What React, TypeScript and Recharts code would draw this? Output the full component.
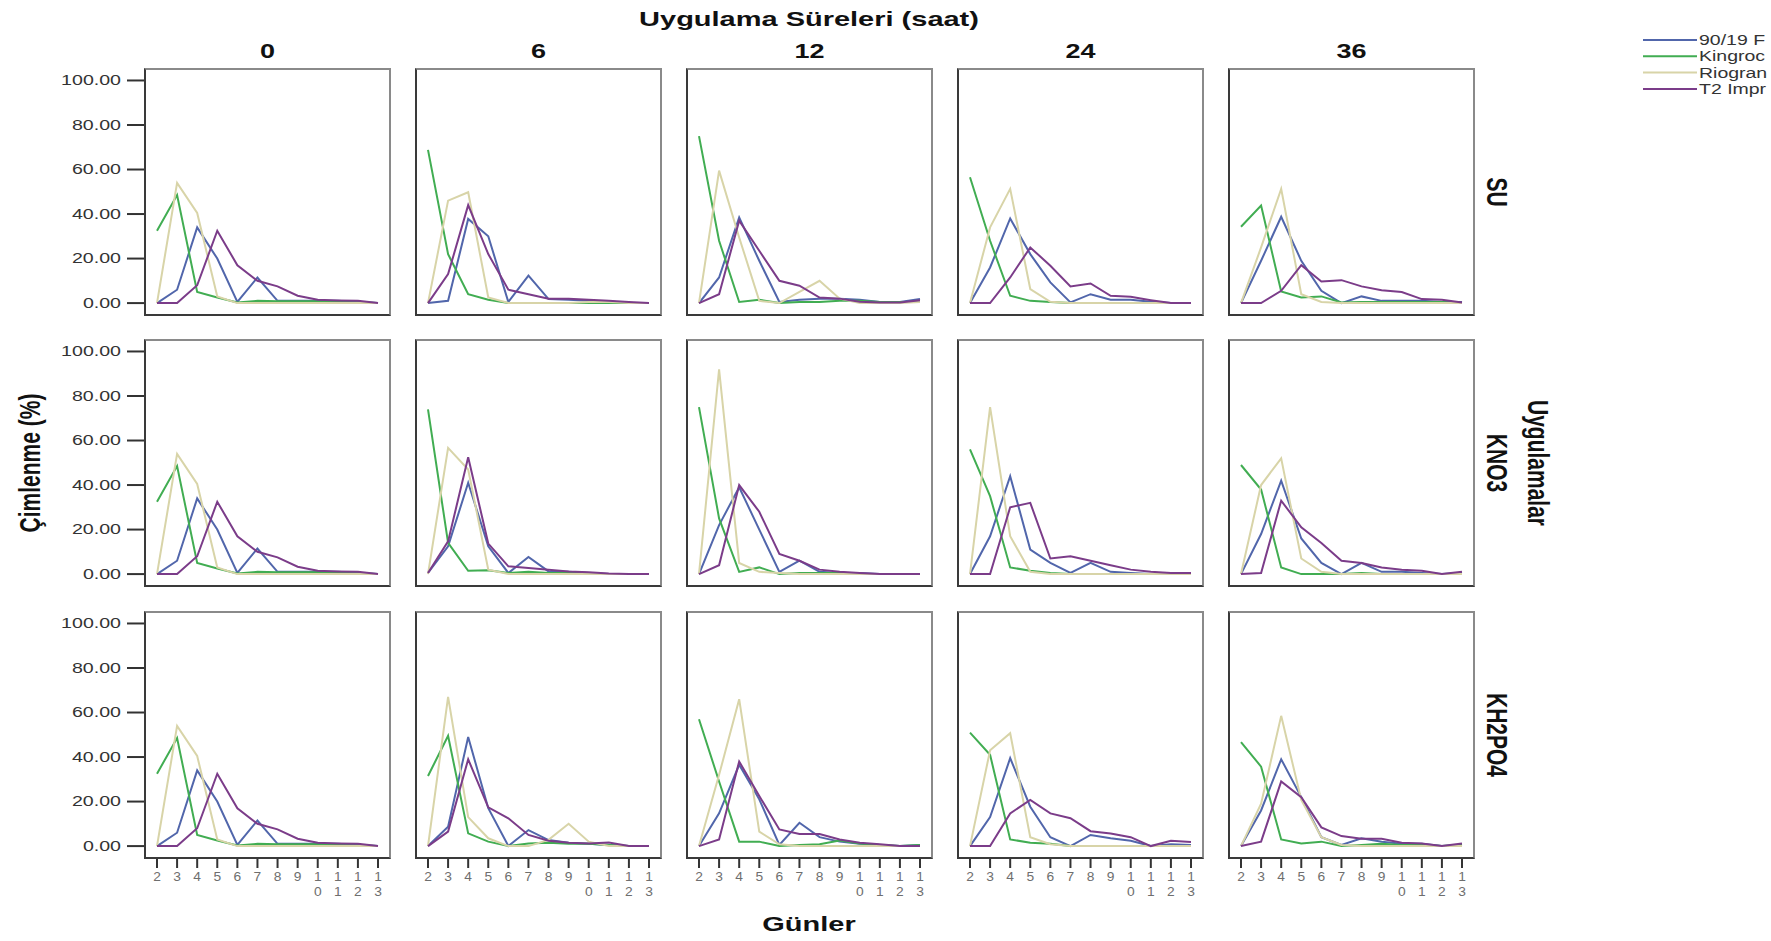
import React from 'react';
import { LineChart, Line, XAxis, YAxis } from 'recharts';

// günler (x ekseni)
const days = [2, 3, 4, 5, 6, 7, 8, 9, 10, 11, 12, 13];
const dayLabels = ['2', '3', '4', '5', '6', '7', '8', '9', '10', '11', '12', '13'];
const yTicks = [0, 20, 40, 60, 80, 100];
const hours = ['0', '6', '12', '24', '36'];
const treatments = ['SU', 'KNO3', 'KH2PO4'];
// lejant metinleri resimde sağ kenarda kesik görünüyor
const cultivars = ['90/19 F', 'Kingroc', 'Riogran', 'T2 Impr'];
const colors = ['#5166ab', '#41ad52', '#d8d4a8', '#7b3c89'];

// her panel: [90/19, Kingroc, Riogran, T2 Impr]
const h0 = [
  [0, 6, 34, 20, 0.5, 11.5, 1, 1, 1, 1, 0.5, 0],
  [32.5, 48.5, 5, 2.5, 0.3, 1, 0.8, 0.8, 0.8, 0.5, 0.3, 0],
  [0, 54, 40.5, 3, 0, 0, 0, 0, 0, 0, 0, 0],
  [0, 0, 8, 32.5, 17, 10, 7.5, 3.3, 1.5, 1.2, 1, 0],
];
const su6 = [
  [0, 1, 37.8, 30, 0.5, 12.3, 1.8, 1.5, 1, 0.5, 0, 0],
  [68.8, 22, 4, 1.5, 0, 0, 0, 0, 0, 0, 0, 0],
  [0, 46, 49.8, 2.5, 0, 0, 0, 0, 0.5, 0.5, 0, 0],
  [0, 13, 44, 22, 6, 4, 2, 2, 1.5, 1, 0.5, 0],
];
const su12 = [
  [0, 11.5, 38.5, 19, 0.5, 1.5, 2, 2, 1.5, 0.5, 0.5, 1.8],
  [75, 28, 0.5, 1.5, 0, 0.5, 0.5, 1, 1, 0.5, 0.5, 0.5],
  [0, 59.5, 29.5, 1, 0, 5, 10, 2, 0, 0, 0, 0.5],
  [0, 4, 37, 23.5, 10, 7.8, 2.5, 2, 0.6, 0.3, 0.3, 1.3],
];
const su24 = [
  [0, 16, 38, 22, 9.3, 0.3, 4, 1.5, 1.5, 0.6, 0, 0],
  [56.5, 28, 3.3, 1, 0.5, 0, 0, 0, 0, 0, 0, 0],
  [0, 34, 51.3, 6.3, 0.6, 0, 0, 0, 0, 0, 0, 0],
  [0, 0, 11.5, 25, 16.8, 7.5, 8.8, 3.3, 2.8, 1.3, 0, 0],
];
const su36 = [
  [0, 19, 38.8, 19, 5.5, 0, 3, 1, 1, 1, 0.5, 0.5],
  [34.3, 43.8, 5.2, 2.5, 3, 0.3, 0.5, 0.5, 0.5, 0.5, 0.5, 0],
  [0, 25, 51.3, 4, 0.5, 0, 0, 0, 0, 0, 0, 0],
  [0, 0, 5.5, 17, 9.7, 10.3, 7.5, 5.8, 5, 1.8, 1.5, 0.3],
];
const kno6 = [
  [0.5, 12.5, 41, 12.5, 0.5, 7.7, 1.2, 1, 0.5, 0, 0, 0],
  [74, 14, 1.5, 1.7, 0.5, 1, 0.5, 0.5, 0, 0, 0, 0],
  [0, 56.7, 47, 2, 0, 0, 0, 0, 0, 0, 0, 0],
  [0.5, 14.7, 52.5, 13.7, 3.5, 2.7, 2, 1.2, 0.8, 0.3, 0, 0],
];
const kno12 = [
  [0, 22, 39, 20, 1, 6, 1, 0.5, 0.5, 0, 0, 0],
  [75, 25, 1, 3, 0, 0.5, 0.5, 0.5, 0, 0, 0, 0],
  [0, 92, 5, 1, 0.5, 0, 0, 0, 0, 0, 0, 0],
  [0, 4, 40, 28, 9, 6, 2, 1, 0.5, 0, 0, 0],
];
const kno24 = [
  [0, 17, 44, 11, 5, 0.5, 5, 1, 0.5, 0, 0, 0],
  [56, 35, 3, 1.5, 0.5, 0, 0, 0, 0, 0, 0, 0],
  [0, 75, 17, 1, 0, 0, 0, 0, 0, 0, 0, 0],
  [0, 0, 30, 32, 7, 8, 6, 4, 2, 1, 0.5, 0.5],
];
const kno36 = [
  [0, 18, 42, 16, 5, 0, 5, 1, 1, 0.5, 0, 0.5],
  [49, 38, 3, 0, 0, 0, 0.5, 0, 0, 0, 0, 0],
  [0, 40, 52, 7, 1, 0, 0, 0, 0, 0, 0, 0],
  [0, 0.5, 33, 21, 14, 6, 5, 3, 2, 1.5, 0, 1],
];
const kh6 = [
  [0, 8.7, 49, 17, 0, 7.2, 2.7, 1.5, 1, 0.5, 0, 0],
  [31.5, 49.5, 5.7, 2, 0, 1.2, 1.5, 1, 1, 0.5, 0, 0],
  [0, 67, 13, 3.5, 0, 0, 2.8, 10, 2, 0, 0, 0],
  [0, 6.5, 39, 17.4, 12.5, 5, 2.4, 1.5, 1.2, 1.6, 0, 0],
];
const kh12 = [
  [0, 14.7, 36.5, 21, 0.5, 10.5, 4, 2, 1, 0.5, 0, 0.5],
  [57, 29, 2, 2, 0, 0.5, 0.8, 2.5, 1.2, 0.5, 0, 0.5],
  [0, 32, 66, 6.5, 0.8, 0, 0, 0, 0, 0, 0, 0],
  [0, 3, 38, 22.5, 7.5, 5.4, 5.4, 3, 1.5, 0.8, 0, 0],
];
const kh24 = [
  [0, 13, 39.5, 17.7, 4, 0, 5, 3.5, 2.4, 0, 0.8, 0.5],
  [51, 41, 3, 1.5, 1, 0, 0, 0, 0, 0, 0, 0],
  [0, 43, 50.7, 4, 0.8, 0, 0, 0, 0, 0, 0, 0],
  [0, 0, 14.7, 20.7, 14.7, 12.5, 6.7, 5.7, 4, 0, 2.4, 1.8],
];
const kh36 = [
  [0, 16, 39, 22, 4, 0.5, 3.5, 2, 1, 1, 0, 0.5],
  [46.7, 35.7, 3, 1.2, 2, 0, 0.5, 1, 0.5, 0.5, 0, 0.5],
  [0, 19, 58.5, 20.7, 4, 0.5, 0, 0, 0, 0, 0, 0],
  [0, 2, 29, 22, 8.4, 4.5, 3.3, 3.3, 1.5, 1.2, 0, 1.2],
];

const grid = [
  [h0, su6, su12, su24, su36],
  [h0, kno6, kno12, kno24, kno36],
  [h0, kh6, kh12, kh24, kh36],
];

// yerleşim
const FONT = '"Liberation Sans", Arial, sans-serif';
const COL_X = [144, 415, 686, 957, 1228];
const ROW_Y = [68, 339, 611];
const PW = 247;
const PH = 248;
const YW = 104;
const XH = 50;

const PctTick = (props: any) => {
  const { x, y, payload } = props;
  return (
    <text transform={`translate(${x},${y}) scale(1.4,1)`} textAnchor="end" dy="0.35em" fontSize={14} fill="#333" fontFamily={FONT}>
      {Number(payload.value).toFixed(2)}
    </text>
  );
};

const DayTick = (props: any) => {
  const { x, y, payload } = props;
  const lbl = dayLabels[days.indexOf(payload.value)] ?? '';
  const parts = lbl.length > 1 ? lbl.split('') : [lbl];
  return (
    <g transform={`translate(${x},${y}) scale(1.15,1)`}>
      {parts.map((t, i) => (
        <text key={i} x={0} y={11 + i * 15} textAnchor="middle" fontSize={12} fill="#6e6e6e" fontFamily={FONT}>
          {t}
        </text>
      ))}
    </g>
  );
};

const Panel = ({ series, row, col }: { series: number[][]; row: number; col: number }) => {
  const data = days.map((d, i) => ({ day: d, s0: series[0][i], s1: series[1][i], s2: series[2][i], s3: series[3][i] }));
  const showY = col === 0;
  const showX = row === 2;
  const w = PW + (showY ? YW : 0);
  const h = PH + (showX ? XH : 0);
  return (
    <div style={{ position: 'absolute', left: COL_X[col] - (showY ? YW : 0), top: ROW_Y[row], width: w, height: h }}>
      <LineChart width={w} height={h} data={data} margin={{ top: 0, right: 0, bottom: 0, left: 0 }}>
        <XAxis
          dataKey="day"
          type="number"
          domain={[1.353, 13.647]}
          ticks={days}
          interval={0}
          allowDataOverflow
          hide={!showX}
          height={XH}
          axisLine={false}
          tickLine={{ stroke: '#333', strokeWidth: 2 }}
          tickSize={9}
          tickMargin={2}
          tick={<DayTick />}
        />
        <YAxis
          type="number"
          domain={[-5.8, 105.6]}
          ticks={yTicks}
          interval={0}
          allowDataOverflow
          hide={!showY}
          width={YW}
          axisLine={false}
          tickLine={{ stroke: '#333', strokeWidth: 2 }}
          tickSize={17}
          tickMargin={6}
          tick={<PctTick />}
        />
        {colors.map((c, i) => (
          <Line key={i} type="linear" dataKey={`s${i}`} stroke={c} strokeWidth={2} dot={false} activeDot={false} isAnimationActive={false} />
        ))}
      </LineChart>
      <div
        style={{
          position: 'absolute',
          left: showY ? YW : 0,
          top: 0,
          width: PW,
          height: PH,
          boxSizing: 'border-box',
          borderTop: '2px solid #8a8a8a',
          borderRight: '2px solid #8a8a8a',
          borderLeft: '2px solid #3a3a3a',
          borderBottom: '2px solid #3a3a3a',
          pointerEvents: 'none',
        }}
      />
    </div>
  );
};

const App = () => {
  return (
    <div style={{ position: 'absolute', left: 0, top: 0, width: 1771, height: 941, overflow: 'hidden', background: '#fff', fontFamily: FONT }}>
      {grid.map((r, ri) => r.map((s, ci) => <Panel key={`${ri}-${ci}`} series={s} row={ri} col={ci} />))}
      <svg width={1771} height={941} style={{ position: 'absolute', left: 0, top: 0, pointerEvents: 'none' }} fontFamily={FONT}>
        <text transform="translate(809,19) scale(1.45,1)" textAnchor="middle" dominantBaseline="central" fontSize={20} fontWeight="bold" fill="#111">
          Uygulama Süreleri (saat)
        </text>
        {hours.map((t, i) => (
          <text key={t} transform={`translate(${COL_X[i] + PW / 2},51) scale(1.35,1)`} textAnchor="middle" dominantBaseline="central" fontSize={20} fontWeight="bold" fill="#111">
            {t}
          </text>
        ))}
        {treatments.map((t, i) => (
          <text key={t} transform={`translate(1497,${ROW_Y[i] + PH / 2}) scale(1.4,1) rotate(90)`} textAnchor="middle" dominantBaseline="central" fontSize={21} fontWeight="bold" fill="#111">
            {t}
          </text>
        ))}
        <text transform="translate(1538,463) scale(1.4,1) rotate(90)" textAnchor="middle" dominantBaseline="central" fontSize={21} fontWeight="bold" fill="#111">
          Uygulamalar
        </text>
        <text transform="translate(30,463) scale(1.4,1) rotate(-90)" textAnchor="middle" dominantBaseline="central" fontSize={21} fontWeight="bold" fill="#111">
          Çimlenme (%)
        </text>
        <text transform="translate(809,924) scale(1.45,1)" textAnchor="middle" dominantBaseline="central" fontSize={20} fontWeight="bold" fill="#111">
          Günler
        </text>
        {cultivars.map((c, i) => (
          <g key={c}>
            <line x1={1643} x2={1697} y1={40 + i * 16.3} y2={40 + i * 16.3} stroke={colors[i]} strokeWidth={2} />
            <text transform={`translate(1699,${40 + i * 16.3}) scale(1.3,1)`} dominantBaseline="central" fontSize={15} fill="#333">
              {c}
            </text>
          </g>
        ))}
      </svg>
    </div>
  );
};

export default App;
